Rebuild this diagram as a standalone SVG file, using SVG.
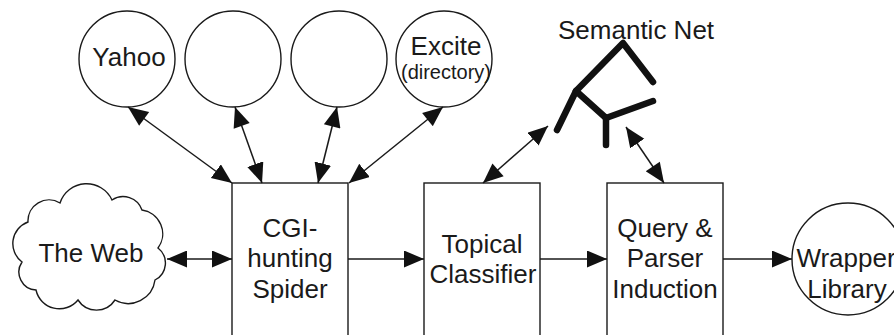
<svg xmlns="http://www.w3.org/2000/svg" width="894" height="335" viewBox="0 0 894 335">
<style>
  .shape { fill: #ffffff; stroke: #1a1a1a; stroke-width: 1.4; }
  .lbl { font-family: "Liberation Sans", Arial, sans-serif; font-size: 26px; fill: #1a1a1a; text-anchor: middle; }
  .small { font-size: 20px; }
  .conn { stroke: #1a1a1a; stroke-width: 1.5; fill: none; }
  .net { stroke: #111111; stroke-width: 6.5; fill: none; stroke-linecap: round; stroke-linejoin: round; }
</style>
<defs>
  <marker id="ahEnd" markerUnits="userSpaceOnUse" markerWidth="21" markerHeight="18" refX="20" refY="8.5" orient="auto">
    <path d="M0,0 L20,8.5 L0,17 z" fill="#111111"/>
  </marker>
  <marker id="ahStart" markerUnits="userSpaceOnUse" markerWidth="21" markerHeight="18" refX="0" refY="8.5" orient="auto">
    <path d="M20,0 L0,8.5 L20,17 z" fill="#111111"/>
  </marker>
</defs>
<rect width="894" height="335" fill="#ffffff"/>

<g id="yahoo">
  <circle class="shape" cx="127" cy="59" r="48"/>
  <text class="lbl" x="129" y="66">Yahoo</text>
</g>
<g id="engine2">
  <circle class="shape" cx="233" cy="59" r="48"/>
</g>
<g id="engine3">
  <circle class="shape" cx="339" cy="59" r="48"/>
</g>
<g id="excite">
  <circle class="shape" cx="444" cy="59" r="48"/>
  <text class="lbl" x="446" y="55">Excite</text>
  <text class="lbl small" x="446" y="79">(directory)</text>
</g>

<g id="semantic-net">
  <text class="lbl" x="558" y="39" style="text-anchor:start">Semantic Net</text>
  <path class="net" d="M653,82 L623,43 L576,91 L557,130"/>
  <path class="net" d="M576,91 L606,118 L653,101"/>
  <path class="net" d="M606,118 L606,145"/>
</g>

<g id="the-web">
  <path class="shape" d="M22,262 A23,23 0 0 1 28,222 A21,21 0 0 1 60,203 A28,28 0 0 1 112,200 A20,20 0 0 1 142,210 A24,24 0 0 1 158,248 A19,19 0 0 1 155,280 A27,27 0 0 1 115,300 A22,22 0 0 1 78,300 A24,24 0 0 1 36,290 A18,18 0 0 1 22,262 Z"/>
  <text class="lbl" x="91" y="262">The Web</text>
</g>

<g id="spider">
  <rect class="shape" x="232" y="183" width="116" height="160"/>
  <text class="lbl" x="290" y="237">CGI-</text>
  <text class="lbl" x="290" y="267">hunting</text>
  <text class="lbl" x="290" y="298">Spider</text>
</g>

<g id="classifier">
  <rect class="shape" x="424" y="183" width="116" height="160"/>
  <text class="lbl" x="482" y="253">Topical</text>
  <text class="lbl" x="483" y="283">Classifier</text>
</g>

<g id="induction">
  <rect class="shape" x="607" y="183" width="116" height="160"/>
  <text class="lbl" x="665" y="237">Query &amp;</text>
  <text class="lbl" x="665" y="267">Parser</text>
  <text class="lbl" x="665" y="298">Induction</text>
</g>

<g id="wrapper-library">
  <circle class="shape" cx="848" cy="259" r="56"/>
  <text class="lbl" x="846" y="267">Wrapper</text>
  <text class="lbl" x="847" y="298">Library</text>
</g>

<g id="connectors">
  <line class="conn" x1="128" y1="107" x2="232" y2="183" marker-start="url(#ahStart)" marker-end="url(#ahEnd)"/>
  <line class="conn" x1="235" y1="107" x2="262" y2="183" marker-start="url(#ahStart)" marker-end="url(#ahEnd)"/>
  <line class="conn" x1="337" y1="107" x2="318" y2="183" marker-start="url(#ahStart)" marker-end="url(#ahEnd)"/>
  <line class="conn" x1="443" y1="107" x2="349" y2="183" marker-start="url(#ahStart)" marker-end="url(#ahEnd)"/>
  <line class="conn" x1="167" y1="259" x2="232" y2="259" marker-start="url(#ahStart)" marker-end="url(#ahEnd)"/>
  <line class="conn" x1="348" y1="259" x2="424" y2="259" marker-end="url(#ahEnd)"/>
  <line class="conn" x1="540" y1="259" x2="607" y2="259" marker-end="url(#ahEnd)"/>
  <line class="conn" x1="723" y1="259" x2="792" y2="259" marker-end="url(#ahEnd)"/>
  <line class="conn" x1="483" y1="183" x2="548" y2="126" marker-start="url(#ahStart)" marker-end="url(#ahEnd)"/>
  <line class="conn" x1="664" y1="183" x2="626" y2="127" marker-start="url(#ahStart)" marker-end="url(#ahEnd)"/>
</g>
</svg>
